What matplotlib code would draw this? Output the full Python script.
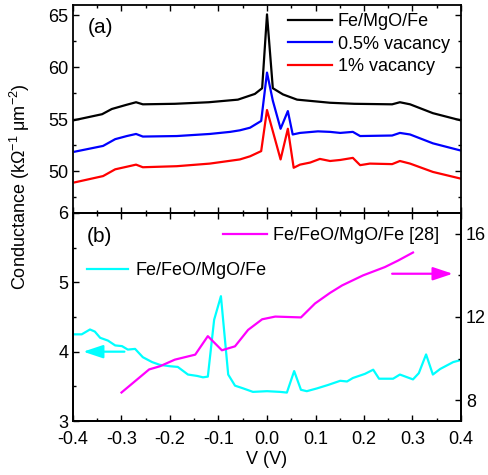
import numpy as np
import matplotlib
matplotlib.use('Agg')
from matplotlib import pyplot as plt
from matplotlib.ticker import MultipleLocator

plt.rcParams['font.family'] = ['Liberation Sans', 'DejaVu Sans']
plt.rcParams['mathtext.fontset'] = 'custom'
plt.rcParams['mathtext.rm'] = 'Liberation Sans'
plt.rcParams['mathtext.it'] = 'Liberation Sans:italic'
plt.rcParams['axes.unicode_minus'] = False
plt.rcParams['font.size'] = 13

# panel (a): conductance of Fe/MgO/Fe with vacancies
v_black = [-0.4, -0.34, -0.32, -0.29, -0.27, -0.256, -0.19, -0.12, -0.06, -0.025, -0.01, 0.0,
           0.012, 0.033, 0.062, 0.13, 0.18, 0.258, 0.274, 0.295, 0.342, 0.4]
g_black = [54.9, 55.5, 56.0, 56.4, 56.65, 56.45, 56.5, 56.65, 56.9, 57.45, 58.0, 65.1,
           58.0, 57.4, 56.9, 56.6, 56.5, 56.45, 56.65, 56.45, 55.6, 54.9]

v_blue = [-0.396, -0.338, -0.313, -0.289, -0.27, -0.256, -0.186, -0.118, -0.076, -0.056, -0.035,
          -0.012, 0.0, 0.012, 0.028, 0.043, 0.053, 0.068, 0.105, 0.13, 0.151, 0.177, 0.192,
          0.258, 0.274, 0.295, 0.342, 0.4]
g_blue = [51.9, 52.45, 53.1, 53.4, 53.6, 53.35, 53.4, 53.6, 53.8, 53.95, 54.2,
          54.85, 59.5, 56.8, 54.1, 55.8, 53.55, 53.7, 53.85, 53.8, 53.7, 53.8, 53.4,
          53.45, 53.7, 53.55, 52.7, 52.0]

v_red = [-0.396, -0.338, -0.313, -0.289, -0.27, -0.256, -0.186, -0.118, -0.056, -0.035, -0.012,
         0.0, 0.028, 0.043, 0.055, 0.068, 0.089, 0.109, 0.13, 0.151, 0.177, 0.192, 0.212,
         0.258, 0.274, 0.295, 0.342, 0.4]
g_red = [48.95, 49.55, 50.2, 50.45, 50.65, 50.4, 50.5, 50.75, 51.15, 51.45, 51.95,
         55.9, 51.15, 54.1, 50.35, 50.65, 50.85, 51.2, 51.0, 51.1, 51.3, 50.6, 50.75,
         50.7, 51.0, 50.75, 49.95, 49.3]

# panel (b): Fe/FeO/MgO/Fe (left axis) and ref [28] (right axis)
v_cyan = [-0.4, -0.382, -0.365, -0.355, -0.344, -0.328, -0.313, -0.299, -0.287, -0.272, -0.256,
          -0.237, -0.221, -0.2, -0.184, -0.163, -0.144, -0.132, -0.122, -0.109, -0.095, -0.080,
          -0.066, -0.049, -0.029, 0.0, 0.027, 0.041, 0.056, 0.070, 0.082, 0.103, 0.126, 0.151,
          0.165, 0.177, 0.202, 0.219, 0.231, 0.260, 0.274, 0.301, 0.313, 0.328, 0.342, 0.357,
          0.384, 0.4]
g_cyan = [4.25, 4.25, 4.32, 4.29, 4.20, 4.16, 4.09, 4.08, 4.03, 4.04, 3.92,
          3.85, 3.81, 3.79, 3.78, 3.67, 3.65, 3.63, 3.64, 4.46, 4.80, 3.67,
          3.51, 3.47, 3.42, 3.43, 3.42, 3.41, 3.72, 3.45, 3.43, 3.47, 3.52, 3.58,
          3.57, 3.62, 3.68, 3.74, 3.61, 3.61, 3.67, 3.60, 3.69, 3.96, 3.67, 3.75,
          3.85, 3.88]

v_mag = [-0.3, -0.243, -0.221, -0.19, -0.148, -0.122, -0.093, -0.066, -0.039, -0.010, 0.017,
         0.070, 0.099, 0.130, 0.155, 0.198, 0.243, 0.27, 0.301]
g_mag = [8.37, 9.48, 9.63, 9.95, 10.19, 11.08, 10.40, 10.59, 11.38, 11.89, 12.02,
         11.98, 12.65, 13.16, 13.52, 14.0, 14.40, 14.71, 15.1]

fig = plt.figure(figsize=(4.89, 4.75), dpi=100)
L, W = 73 / 489, 388 / 489
H = 208 / 475
ax_a = fig.add_axes([L, 1 - 213 / 475, W, H])
ax_b = fig.add_axes([L, 1 - 421 / 475, W, H])
ax_r = ax_b.twinx()

lw = 1.6
ax_a.plot(v_black, g_black, color='black', lw=lw, label='Fe/MgO/Fe')
ax_a.plot(v_blue, g_blue, color='#0000ff', lw=lw, label='0.5% vacancy')
ax_a.plot(v_red, g_red, color='#ff0000', lw=lw, label='1% vacancy')

cy, = ax_b.plot(v_cyan, g_cyan, color='#00ffff', lw=lw, label='Fe/FeO/MgO/Fe')
mg, = ax_r.plot(v_mag, g_mag, color='#ff00ff', lw=lw, label='Fe/FeO/MgO/Fe [28]')

for ax in (ax_a, ax_b):
    ax.set_xlim(-0.4, 0.4)
    ax.xaxis.set_major_locator(MultipleLocator(0.1))
    ax.xaxis.set_minor_locator(MultipleLocator(0.05))

ax_a.set_ylim(46, 66)
ax_a.yaxis.set_major_locator(MultipleLocator(5))
ax_a.yaxis.set_minor_locator(MultipleLocator(2.5))
ax_a.tick_params(labelbottom=False)
ax_a.tick_params(which='both', direction='in', top=True, right=True, width=1)
ax_a.tick_params(which='major', length=4)
ax_a.tick_params(which='minor', length=2.5)

ax_b.set_ylim(3, 6)
ax_b.yaxis.set_major_locator(MultipleLocator(1))
ax_b.yaxis.set_minor_locator(MultipleLocator(0.5))
ax_b.tick_params(which='both', direction='in', top=True, right=False, width=1)
ax_b.tick_params(which='major', length=4)
ax_b.tick_params(which='minor', length=2.5)
ax_b.tick_params(axis='x', pad=7)

ax_r.set_ylim(7, 17)
ax_r.yaxis.set_minor_locator(MultipleLocator(2))
ax_r.set_yticks([8, 12, 16])
ax_r.tick_params(which='both', direction='in', width=1)
ax_r.tick_params(which='major', length=4)
ax_r.tick_params(which='minor', length=2.5)

for ax in (ax_a, ax_b, ax_r):
    for s in ax.spines.values():
        s.set_linewidth(1.3)

ax_b.set_xlabel('V (V)', labelpad=2)
fig.text(20 / 489, 1 - 187 / 475, 'Conductance (k\u03a9$^{-1}$ \u03bcm$^{-2}$)',
         rotation=90, ha='center', va='center', fontsize=13)

ax_a.text(0.039, 0.894, '(a)', transform=ax_a.transAxes, fontsize=15, va='center')
ax_b.text(0.036, 0.889, '(b)', transform=ax_b.transAxes, fontsize=15, va='center')

ax_a.legend(loc='upper left', bbox_to_anchor=(0.554, 0.962), frameon=False, borderpad=0,
            borderaxespad=0, handlelength=2.45, handletextpad=0.3, labelspacing=0.32)

leg1 = ax_r.legend(handles=[mg], loc='upper left', bbox_to_anchor=(0.387, 0.933), frameon=False,
                   borderpad=0, borderaxespad=0, handlelength=2.45, handletextpad=0.3)
ax_r.add_artist(leg1)
ax_r.legend(handles=[cy], loc='upper left', bbox_to_anchor=(0.036, 0.765), frameon=False,
            borderpad=0, borderaxespad=0, handlelength=2.3, handletextpad=0.4)

arrow = dict(arrowstyle='-|>,head_length=0.6,head_width=0.2', lw=1.6, shrinkA=0, shrinkB=0,
             mutation_scale=20)
ax_b.annotate('', xy=(-0.379, 4.0), xytext=(-0.294, 4.0),
              arrowprops=dict(arrow, color='#00ffff'))
ax_r.annotate('', xy=(0.383, 14.08), xytext=(0.258, 14.08),
              arrowprops=dict(arrow, color='#ff00ff'))

fig.savefig('out.png', dpi=100)
